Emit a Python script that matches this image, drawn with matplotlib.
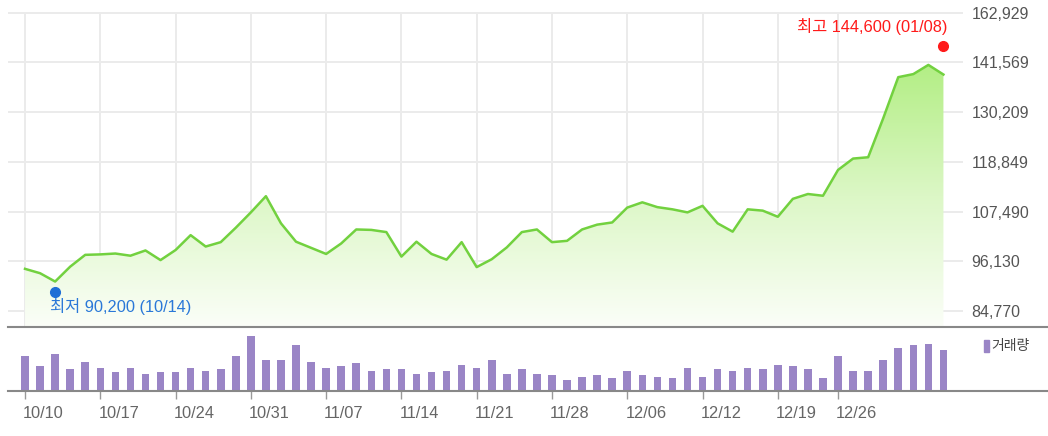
import numpy as np
import matplotlib
matplotlib.use('Agg')
import matplotlib.pyplot as plt
import matplotlib.transforms as mtransforms
from matplotlib.lines import Line2D
from matplotlib.colors import LinearSegmentedColormap

plt.rcParams['font.family'] = ['Liberation Sans', 'Noto Sans CJK KR', 'DejaVu Sans']

# closing prices (trading days 10/10 .. 01/08)
close = [94400, 93400, 91500, 94900, 97600, 97700, 97900, 97400, 98600, 96400,
         98700, 102100, 99500, 100500, 103800, 107300, 111000, 104800, 100600, 99200,
         97800, 100200, 103400, 103300, 102800, 97200, 100600, 97800, 96500, 100500,
         94800, 96600, 99300, 102800, 103400, 100500, 100800, 103400, 104500, 105000,
         108400, 109600, 108500, 108000, 107300, 108800, 104800, 102900, 108000, 107700,
         106300, 110400, 111500, 111100, 117000, 119600, 119900, 128800, 138200, 138900,
         141000, 138800]

# volume (relative)
volume = [1050, 730, 1100, 640, 870, 690, 550, 690, 510, 550,
          550, 690, 600, 640, 1050, 1640, 910, 910, 1370, 870,
          690, 730, 820, 600, 640, 640, 510, 550, 600, 780,
          690, 910, 510, 640, 510, 460, 320, 410, 460, 370,
          600, 460, 410, 370, 690, 410, 640, 600, 690, 640,
          780, 730, 640, 370, 1050, 600, 600, 910, 1270, 1370,
          1410, 1230]

tick_idx = [0, 5, 10, 15, 20, 25, 30, 35, 40, 45, 50, 54]
tick_labels = ['10/10', '10/17', '10/24', '10/31', '11/07', '11/14', '11/21',
               '11/28', '12/06', '12/12', '12/19', '12/26']

y_ticks = [84770, 96130, 107490, 118849, 130209, 141569, 152929]
y_tick_labels = ['84,770', '96,130', '107,490', '118,849', '130,209', '141,569', '162,929']

hi_val, hi_idx, hi_text = 144600, 61, '최고 144,600 (01/08)'
lo_val, lo_idx, lo_text = 90200, 2, '최저 90,200 (10/14)'

W, H = 1048, 436
fig = plt.figure(figsize=(W / 100, H / 100), dpi=100)

def fx(px):
    return px / W

def fy(py):
    return 1 - py / H

left, right = 8, 963
ax = fig.add_axes([fx(left), fy(326.7), fx(right - left), fy(12) - fy(326.7)])
axv = fig.add_axes([fx(left), fy(390.7), fx(right - left), fy(326.7) - fy(390.7)])

x = np.arange(len(close))
xlim = (-1.13, 62.3)
grid_c = '#ebebeb'

# price panel
ax.set_xlim(*xlim)
ax.set_ylim(81180, 153090)
for t in tick_idx:
    ax.axvline(t, color=grid_c, lw=1.4, zorder=0)
for t in y_ticks:
    ax.axhline(t, color=grid_c, lw=1.4, zorder=0)

# gradient fill under the line
cmap = LinearSegmentedColormap.from_list('g', ['#fbfef8', '#dcf7c6', '#b3ee85'])
grad = np.linspace(0, 1, 256).reshape(-1, 1)
im = ax.imshow(grad, cmap=cmap, origin='lower', aspect='auto',
               extent=[x[0], x[-1], 81180, 141000], zorder=1)
poly = ax.fill_between(x, close, 81180, color='none', lw=0)
clip = poly.get_paths()[0]
im.set_clip_path(clip, transform=ax.transData)
ax.plot(x, close, color='#72d13f', lw=1.8, zorder=3)

ax.yaxis.tick_right()
ax.set_yticks(y_ticks)
ax.set_yticklabels(y_tick_labels)
ax.tick_params(axis='y', length=0, pad=6, labelsize=11.5, labelcolor='#555555')
ax.set_xticks([])
for s in ax.spines.values():
    s.set_visible(False)

# high / low markers
cjk = ['Liberation Sans', 'Noto Sans CJK KR', 'DejaVu Sans']
off_hi = mtransforms.offset_copy(ax.transData, fig=fig, x=0, y=3.5 * 0.72, units='points')
off_lo = mtransforms.offset_copy(ax.transData, fig=fig, x=0, y=-4.5 * 0.72, units='points')
ax.plot([hi_idx], [hi_val], 'o', color='#ff1a1a', ms=7, transform=off_hi, zorder=4, clip_on=False)
ax.plot([lo_idx], [lo_val], 'o', color='#1f6fd6', ms=7, transform=off_lo, zorder=4, clip_on=False)
ax.annotate(hi_text, (hi_idx, hi_val), xytext=(3, 16), textcoords='offset points',
            ha='right', va='center', color='#ff1a1a', fontsize=11.8, family=cjk)
ax.annotate(lo_text, (lo_idx, lo_val), xytext=(-3.5, -14), textcoords='offset points',
            ha='left', va='center', color='#2a78d8', fontsize=11.8, family=cjk)

# volume panel
axv.set_xlim(*xlim)
axv.set_ylim(0, 1919)
axv.bar(x, volume, width=0.5, color='#9a85c6', zorder=2)
axv.set_yticks([])
axv.set_xticks(tick_idx)
axv.set_xticklabels(tick_labels)
axv.tick_params(axis='x', length=6, width=1, color='#999999', pad=5,
                labelsize=11.8, labelcolor='#666666')
shift = mtransforms.ScaledTranslation(-2 / 100, 0, fig.dpi_scale_trans)
for lab in axv.get_xticklabels():
    lab.set_horizontalalignment('left')
    lab.set_transform(lab.get_transform() + shift)
for s in axv.spines.values():
    s.set_visible(False)

# full-width baselines
fig.add_artist(Line2D([fx(left), 1], [fy(326.7), fy(326.7)], color='#888888', lw=1.5))
fig.add_artist(Line2D([fx(left), 1], [fy(390.7), fy(390.7)], color='#888888', lw=1.5))

# legend
fig.patches.append(plt.Rectangle((fx(984), fy(351.7)), fx(4.5), fy(340) - fy(351.7),
                                 transform=fig.transFigure, color='#9a85c6'))
fig.text(fx(991), fy(345.5), '거래량', ha='left', va='center', fontsize=10,
         color='#444444', family=['Noto Sans CJK KR', 'DejaVu Sans'])

fig.savefig('out.png', dpi=100)
